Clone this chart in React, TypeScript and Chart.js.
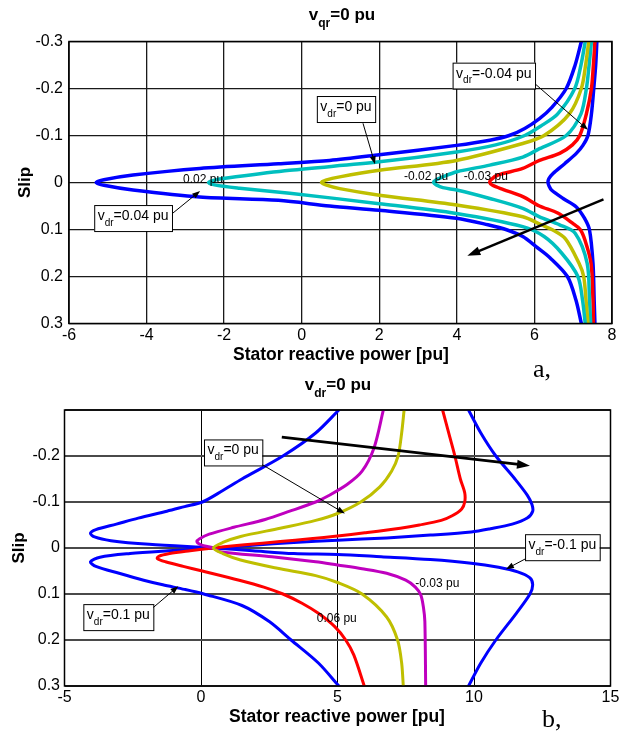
import React, { useEffect, useRef } from 'react';
import { Chart, registerables } from 'chart.js';

Chart.register(...registerables);

const FONT = 'Arial, "Liberation Sans", Helvetica, sans-serif';

// ---------------- Panel a: vqr = 0 pu ----------------
const topXTicks = [-6, -4, -2, 0, 2, 4, 6, 8];
const slipTicks = [-0.3, -0.2, -0.1, 0, 0.1, 0.2, 0.3];

// vdr = 0.04 pu (blue)
const slipA_B1 = [-0.3, -0.25, -0.2, -0.16, -0.136, -0.115, -0.1, -0.09, -0.079, -0.059, -0.047, -0.04, -0.03, -0.016, -0.006, 0, 0.006, 0.016, 0.031, 0.038, 0.05, 0.059, 0.076, 0.09, 0.101, 0.115, 0.137, 0.16, 0.2, 0.25, 0.3];
const qA_B1 = [7.21, 7.05, 6.82, 6.45, 6.13, 5.75, 5.35, 4.85, 3.99, 2.0, 0.72, -0.6, -2.63, -4.35, -5.1, -5.3, -5.1, -4.35, -2.63, -0.6, 0.72, 2.0, 3.99, 4.8, 5.3, 5.7, 6.05, 6.4, 6.85, 7.07, 7.21];
// vdr = 0.02 pu (cyan)
const slipA_C1 = [-0.3, -0.25, -0.2, -0.146, -0.122, -0.1, -0.08, -0.065, -0.044, -0.026, -0.012, -0.005, 0, 0.005, 0.012, 0.023, 0.045, 0.066, 0.094, 0.115, 0.15, 0.2, 0.25, 0.3];
const qA_C1 = [7.31, 7.2, 7.04, 6.6, 6.2, 5.75, 5.0, 3.99, 2.0, -0.31, -1.7, -2.25, -2.4, -2.25, -1.6, -0.31, 2.0, 3.99, 5.7, 6.25, 6.7, 7.12, 7.24, 7.31];
// vdr = 0 pu (yellow)
const slipA_Y = [-0.3, -0.25, -0.2, -0.146, -0.1, -0.083, -0.047, -0.026, -0.012, -0.005, 0, 0.005, 0.013, 0.027, 0.048, 0.073, 0.091, 0.1, 0.12, 0.172, 0.2, 0.25, 0.3];
const qA_Y = [7.4, 7.32, 7.21, 6.9, 6.25, 5.7, 3.99, 2.0, 0.98, 0.62, 0.51, 0.62, 0.98, 2.0, 3.99, 5.7, 6.2, 6.45, 6.8, 7.15, 7.27, 7.33, 7.38];
// vdr = -0.02 pu (cyan)
const slipA_C2 = [-0.3, -0.25, -0.2, -0.146, -0.1, -0.072, -0.054, -0.037, -0.023, -0.012, -0.005, 0, 0.005, 0.011, 0.016, 0.034, 0.055, 0.073, 0.09, 0.108, 0.172, 0.25, 0.3];
const qA_C2 = [7.47, 7.41, 7.34, 7.2, 6.82, 6.13, 5.7, 4.85, 4.0, 3.64, 3.45, 3.4, 3.47, 3.64, 4.0, 4.85, 5.7, 6.13, 6.65, 7.05, 7.36, 7.42, 7.45];
// vdr = -0.03 pu (red)
const slipA_R = [-0.3, -0.25, -0.2, -0.146, -0.1, -0.08, -0.062, -0.047, -0.03, -0.016, -0.006, 0, 0.006, 0.015, 0.03, 0.05, 0.065, 0.087, 0.1, 0.122, 0.172, 0.25, 0.3];
const qA_R = [7.56, 7.52, 7.47, 7.34, 7.17, 6.98, 6.65, 6.13, 5.7, 5.06, 4.88, 4.85, 4.92, 5.2, 5.7, 6.13, 6.6, 6.99, 7.18, 7.3, 7.46, 7.51, 7.52];
// vdr = -0.04 pu (blue)
const slipA_B2 = [-0.3, -0.25, -0.2, -0.146, -0.1, -0.079, -0.062, -0.04, -0.019, -0.008, 0, 0.008, 0.016, 0.034, 0.052, 0.076, 0.101, 0.172, 0.25, 0.3];
const qA_B2 = [7.61, 7.58, 7.53, 7.47, 7.38, 7.25, 7.08, 6.78, 6.48, 6.37, 6.35, 6.38, 6.44, 6.74, 7.08, 7.29, 7.42, 7.51, 7.54, 7.56];

// ---------------- Panel b: vdr = 0 pu ----------------
const botXTicks = [-5, 0, 5, 10, 15];

// vdr = 0.1 pu (blue)
const slipB_B1 = [-0.3, -0.25, -0.2, -0.15, -0.115, -0.095, -0.08, -0.065, -0.052, -0.042, -0.035, -0.028, -0.022, -0.017, -0.012, -0.006, 0, 0.006, 0.012, 0.02, 0.03, 0.04, 0.055, 0.07, 0.08, 0.09, 0.1, 0.125, 0.16, 0.2, 0.25, 0.3];
const qB_B1 = [9.8, 10.25, 10.8, 11.5, 11.95, 12.12, 12.15, 11.95, 11.4, 10.6, 9.9, 8.4, 6.8, 5.0, 3.4, 1.9, 0.45, -1.2, -2.6, -3.7, -4.05, -3.85, -3.0, -2.1, -1.4, -0.6, 0.1, 1.5, 2.5, 3.3, 4.3, 5.05];
// vdr = -0.1 pu (blue)
const slipB_B2 = [-0.3, -0.25, -0.2, -0.15, -0.125, -0.1, -0.09, -0.08, -0.065, -0.052, -0.04, -0.032, -0.024, -0.016, -0.008, 0, 0.006, 0.012, 0.014, 0.019, 0.025, 0.033, 0.042, 0.052, 0.065, 0.08, 0.1, 0.142, 0.2, 0.25, 0.3];
const qB_B2 = [5.05, 4.2, 3.0, 1.5, 0.8, 0.05, -0.6, -1.25, -2.3, -3.1, -3.85, -4.05, -3.9, -3.3, -1.9, 0.45, 1.9, 3.4, 5.0, 6.6, 8.4, 9.9, 10.9, 11.6, 12.05, 12.15, 12.05, 11.55, 10.8, 10.25, 9.8];
// vdr = 0.06 pu (red)
const slipB_R = [-0.3, -0.24, -0.2, -0.15, -0.12, -0.1, -0.085, -0.07, -0.06, -0.05, -0.043, -0.033, -0.026, -0.02, -0.014, -0.007, 0, 0.006, 0.012, 0.018, 0.023, 0.03, 0.04, 0.05, 0.07, 0.085, 0.1, 0.12, 0.142, 0.171, 0.2, 0.233, 0.3];
const qB_R = [8.85, 9.12, 9.3, 9.5, 9.66, 9.66, 9.55, 9.2, 8.8, 8.0, 7.3, 6.0, 5.0, 4.0, 2.9, 1.6, 0.45, -0.4, -1.15, -1.55, -1.6, -1.3, -0.65, 0.05, 1.4, 2.3, 3.0, 3.7, 4.3, 4.9, 5.3, 5.6, 5.98];
// vdr = -0.03 pu (magenta)
const slipB_M = [-0.3, -0.218, -0.167, -0.138, -0.113, -0.1, -0.08, -0.062, -0.045, -0.03, -0.02, -0.014, -0.007, 0, 0.008, 0.019, 0.03, 0.037, 0.045, 0.055, 0.07, 0.085, 0.102, 0.13, 0.16, 0.3];
const qB_M = [6.68, 6.34, 5.9, 5.35, 4.65, 4.2, 3.25, 2.35, 1.2, 0.3, -0.05, -0.15, 0.0, 0.45, 0.7, 2.6, 4.2, 5.0, 5.9, 6.8, 7.5, 7.85, 8.05, 8.15, 8.2, 8.23];
// vdr = 0 pu (yellow)
const slipB_Y = [-0.3, -0.25, -0.2, -0.167, -0.133, -0.1, -0.075, -0.06, -0.043, -0.025, -0.012, 0, 0.012, 0.026, 0.044, 0.06, 0.075, 0.1, 0.15, 0.2, 0.25, 0.3];
const qB_Y = [7.44, 7.35, 7.22, 6.98, 6.55, 5.85, 5.0, 4.2, 2.9, 1.45, 0.8, 0.45, 0.8, 1.45, 2.8, 4.2, 5.0, 5.9, 6.8, 7.2, 7.35, 7.41];

// ---------------- colours ----------------
const BLUE = '#0000ff';
const CYAN = '#00bfbf';
const YELLOW = '#bfbf00';
const RED = '#ff0000';
const MAGENTA = '#bf00bf';

type Part = [string, boolean?];
const VDR = (rest: string): Part[] => [['v'], ['dr', true], [rest]];

const topBoxes = [
  { x: 0.39, y: -0.184, parts: VDR('=0 pu'), from: [1.58, -0.126], to: [1.89, -0.039] },
  { x: 3.89, y: -0.255, parts: VDR('=-0.04 pu'), from: [5.96, -0.214], to: [7.38, -0.112] },
  { x: -5.35, y: 0.048, parts: VDR('=0.04 pu'), from: [-3.41, 0.071], to: [-2.62, 0.018] },
];
const topTexts = [
  { x: -3.06, y: -0.007, t: '0.02 pu' },
  { x: 2.64, y: -0.012, t: '-0.02 pu' },
  { x: 4.18, y: -0.012, t: '-0.03 pu' },
];
const topBigArrow = { from: [7.78, 0.036], to: [4.27, 0.156] };

const botBoxes = [
  { x: 0.11, y: -0.236, parts: VDR('=0 pu'), from: [2.22, -0.182], to: [5.27, -0.075] },
  { x: -4.31, y: 0.122, parts: VDR('=0.1 pu'), from: [-1.78, 0.131], to: [-0.83, 0.083] },
  { x: 11.87, y: -0.03, parts: VDR('=-0.1 pu'), from: [11.87, 0.024], to: [11.17, 0.046] },
];
const botTexts = [
  { x: 7.85, y: 0.078, t: '-0.03 pu' },
  { x: 4.24, y: 0.153, t: '0.06 pu' },
];
const botBigArrow = { from: [2.96, -0.241], to: [12.05, -0.179] };

const pts = (s: number[], q: number[]) => s.map((v, i) => ({ x: q[i], y: v }));

function fontStr(size: number, bold: boolean, sub?: boolean) {
  return `${bold ? 'bold ' : ''}${sub ? Math.round(size * 0.72) : size}px ${FONT}`;
}
function richWidth(ctx: CanvasRenderingContext2D, parts: Part[], size: number, bold: boolean) {
  let w = 0;
  for (const [t, sub] of parts) {
    ctx.font = fontStr(size, bold, sub);
    w += ctx.measureText(t).width;
  }
  return w;
}
function drawRich(ctx: CanvasRenderingContext2D, parts: Part[], x: number, y: number, size: number, bold: boolean) {
  let cx = x;
  ctx.textAlign = 'left';
  ctx.textBaseline = 'alphabetic';
  for (const [t, sub] of parts) {
    ctx.font = fontStr(size, bold, sub);
    ctx.fillText(t, cx, sub ? y + size * 0.4 : y);
    cx += ctx.measureText(t).width;
  }
}
function arrow(ctx: CanvasRenderingContext2D, x1: number, y1: number, x2: number, y2: number, lw: number, hl: number, hw: number) {
  const a = Math.atan2(y2 - y1, x2 - x1);
  const c = Math.cos(a);
  const s = Math.sin(a);
  ctx.strokeStyle = '#000';
  ctx.fillStyle = '#000';
  ctx.lineWidth = lw;
  ctx.beginPath();
  ctx.moveTo(x1, y1);
  ctx.lineTo(x2 - c * hl * 0.7, y2 - s * hl * 0.7);
  ctx.stroke();
  ctx.beginPath();
  ctx.moveTo(x2, y2);
  ctx.lineTo(x2 - c * hl - s * hw, y2 - s * hl + c * hw);
  ctx.lineTo(x2 - c * hl + s * hw, y2 - s * hl - c * hw);
  ctx.closePath();
  ctx.fill();
}

type PanelCfg = {
  boxes: typeof topBoxes;
  texts: typeof topTexts;
  big: typeof topBigArrow;
  title: Part[];
  titleX: number;
  titleY: number;
  xTitleX: number;
  xTitleY: number;
  slipX: number;
  letter: string;
  letterX: number;
  letterY: number;
};

function panelPlugin(p: PanelCfg) {
  return {
    id: 'panelDecor',
    afterDatasetsDraw(chart: any) {
      const ctx: CanvasRenderingContext2D = chart.ctx;
      const xs = chart.scales.x;
      const ys = chart.scales.y;
      const ca = chart.chartArea;
      const X = (v: number) => xs.getPixelForValue(v);
      const Y = (v: number) => ys.getPixelForValue(v);
      ctx.save();
      ctx.strokeStyle = '#000';
      ctx.lineWidth = 1.5;
      ctx.strokeRect(ca.left, ca.top, ca.right - ca.left, ca.bottom - ca.top);

      arrow(ctx, X(p.big.from[0]), Y(p.big.from[1]), X(p.big.to[0]), Y(p.big.to[1]), 2.6, 13, 4.5);

      for (const b of p.boxes) {
        arrow(ctx, X(b.from[0]), Y(b.from[1]), X(b.to[0]), Y(b.to[1]), 1, 8, 3);
      }
      for (const b of p.boxes) {
        const left = X(b.x);
        const top = Y(b.y);
        const w = richWidth(ctx, b.parts, 14, false) + 7;
        const h = 26;
        ctx.fillStyle = '#fff';
        ctx.fillRect(left, top, w, h);
        ctx.strokeStyle = '#000';
        ctx.lineWidth = 1;
        ctx.strokeRect(left + 0.5, top + 0.5, w, h);
        ctx.fillStyle = '#000';
        drawRich(ctx, b.parts, left + 3.5, top + 15, 14, false);
      }
      ctx.fillStyle = '#000';
      ctx.font = `12px ${FONT}`;
      ctx.textAlign = 'left';
      ctx.textBaseline = 'middle';
      for (const t of p.texts) {
        ctx.fillText(t.t, X(t.x), Y(t.y));
      }
      ctx.restore();
    },
    afterDraw(chart: any) {
      const ctx: CanvasRenderingContext2D = chart.ctx;
      const ca = chart.chartArea;
      ctx.save();
      ctx.fillStyle = '#000';
      const tw = richWidth(ctx, p.title, 17, true);
      drawRich(ctx, p.title, p.titleX - tw / 2, p.titleY, 17, true);

      ctx.font = `bold 17.5px ${FONT}`;
      ctx.textAlign = 'center';
      ctx.textBaseline = 'alphabetic';
      ctx.fillText('Stator reactive power [pu]', p.xTitleX, p.xTitleY);

      ctx.save();
      ctx.translate(p.slipX, (ca.top + ca.bottom) / 2);
      ctx.rotate(-Math.PI / 2);
      ctx.font = `bold 17px ${FONT}`;
      ctx.textAlign = 'center';
      ctx.textBaseline = 'middle';
      ctx.fillText('Slip', 0, 0);
      ctx.restore();

      ctx.font = `26px "Liberation Serif", "Times New Roman", serif`;
      ctx.textAlign = 'left';
      ctx.textBaseline = 'alphabetic';
      ctx.fillText(p.letter, p.letterX, p.letterY);
      ctx.restore();
    },
  };
}

const fmtSlip = (v: number) => {
  const r = Math.round(v * 10) / 10;
  return r === 0 ? '0' : String(r);
};

function makeOptions(o: {
  xMin: number; xMax: number; xTicks: number[]; padRight: number; padTop: number;
  yW: number; xH: number; yPad: number; xPad: number; hideTopSlip: boolean;
  xGridColor: string; xGridW: number; yGridColor: string; yGridW: number;
}) {
  return {
    responsive: false,
    animation: false as const,
    devicePixelRatio: 1,
    events: [] as any[],
    layout: { padding: { left: 0, right: o.padRight, top: o.padTop, bottom: 0 } },
    plugins: { legend: { display: false }, tooltip: { enabled: false }, title: { display: false } },
    elements: { point: { radius: 0 } },
    scales: {
      x: {
        type: 'linear' as const,
        min: o.xMin,
        max: o.xMax,
        afterBuildTicks: (s: any) => { s.ticks = o.xTicks.map((v) => ({ value: v })); },
        afterFit: (s: any) => { s.height = o.xH; },
        ticks: {
          autoSkip: false, maxRotation: 0, padding: o.xPad, color: '#000',
          font: { family: FONT, size: 16 },
          callback: (v: any) => String(v),
        },
        grid: { color: o.xGridColor, lineWidth: o.xGridW, drawTicks: false },
        border: { display: false },
      },
      y: {
        type: 'linear' as const,
        reverse: true,
        min: -0.3,
        max: 0.3,
        afterBuildTicks: (s: any) => { s.ticks = slipTicks.map((v) => ({ value: v })); },
        afterFit: (s: any) => { s.width = o.yW; },
        ticks: {
          autoSkip: false, padding: o.yPad, color: '#000',
          font: { family: FONT, size: 16 },
          callback: (v: any) => (o.hideTopSlip && Math.round(v * 10) === -3 ? '' : fmtSlip(v)),
        },
        grid: { color: o.yGridColor, lineWidth: o.yGridW, drawTicks: false },
        border: { display: false },
      },
    },
  };
}

const ds = (s: number[], q: number[], color: string, w: number) => ({
  data: pts(s, q),
  showLine: true,
  borderColor: color,
  backgroundColor: color,
  borderWidth: w,
  tension: 0.3,
  pointRadius: 0,
  fill: false,
  borderCapStyle: 'round' as const,
  borderJoinStyle: 'round' as const,
});

export default function App() {
  const topRef = useRef<HTMLCanvasElement>(null);
  const botRef = useRef<HTMLCanvasElement>(null);

  useEffect(() => {
    const topChart = new Chart(topRef.current as HTMLCanvasElement, {
      type: 'scatter',
      data: {
        datasets: [
          ds(slipA_B1, qA_B1, BLUE, 3.5),
          ds(slipA_C1, qA_C1, CYAN, 3.5),
          ds(slipA_Y, qA_Y, YELLOW, 3.5),
          ds(slipA_C2, qA_C2, CYAN, 3.5),
          ds(slipA_R, qA_R, RED, 3.5),
          ds(slipA_B2, qA_B2, BLUE, 3.5),
        ],
      },
      options: makeOptions({
        xMin: -6, xMax: 8, xTicks: topXTicks, padRight: 18, padTop: 41.5,
        yW: 69, xH: 68.5, yPad: 6, xPad: 2, hideTopSlip: false,
        xGridColor: '#1a1a1a', xGridW: 1.3, yGridColor: '#1a1a1a', yGridW: 1.3,
      }) as any,
      plugins: [panelPlugin({
        boxes: topBoxes, texts: topTexts, big: topBigArrow,
        title: [['v'], ['qr', true], ['=0 pu']], titleX: 342, titleY: 20,
        xTitleX: 341, xTitleY: 360, slipX: 25,
        letter: 'a,', letterX: 533, letterY: 377,
      })],
    });

    const botChart = new Chart(botRef.current as HTMLCanvasElement, {
      type: 'scatter',
      data: {
        datasets: [
          ds(slipB_Y, qB_Y, YELLOW, 3),
          ds(slipB_M, qB_M, MAGENTA, 3),
          ds(slipB_R, qB_R, RED, 3),
          ds(slipB_B1, qB_B1, BLUE, 3),
          ds(slipB_B2, qB_B2, BLUE, 3),
        ],
      },
      options: makeOptions({
        xMin: -5, xMax: 15, xTicks: botXTicks, padRight: 19.5, padTop: 40,
        yW: 64.5, xH: 45, yPad: 4.5, xPad: 2, hideTopSlip: true,
        xGridColor: '#000', xGridW: 1, yGridColor: '#4a4a4a', yGridW: 2,
      }) as any,
      plugins: [panelPlugin({
        boxes: botBoxes, texts: botTexts, big: botBigArrow,
        title: [['v'], ['dr', true], ['=0 pu']], titleX: 338, titleY: 20,
        xTitleX: 337, xTitleY: 352, slipX: 19,
        letter: 'b,', letterX: 542, letterY: 357,
      })],
    });

    return () => {
      topChart.destroy();
      botChart.destroy();
    };
  }, []);

  return (
    <div style={{ position: 'absolute', left: 0, top: 0, width: 630, height: 731, background: '#fff', overflow: 'hidden' }}>
      <div style={{ position: 'absolute', left: 0, top: 0, width: 630, height: 392 }}>
        <canvas ref={topRef} width={630} height={392} />
      </div>
      <div style={{ position: 'absolute', left: 0, top: 370, width: 630, height: 361 }}>
        <canvas ref={botRef} width={630} height={361} />
      </div>
    </div>
  );
}
